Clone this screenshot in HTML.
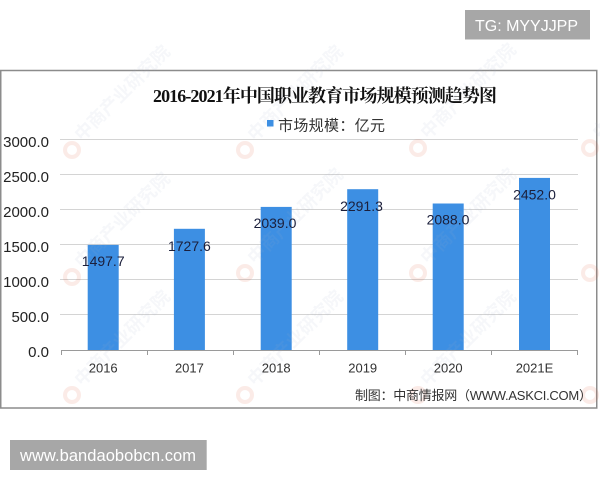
<!DOCTYPE html>
<html>
<head>
<meta charset="utf-8">
<style>
  html, body { margin:0; padding:0; background:#ffffff; }
  body { width:600px; height:480px; overflow:hidden; position:relative; }
  svg { position:absolute; left:0; top:0; }
</style>
</head>
<body>
<svg width="600" height="480" viewBox="0 0 600 480" xmlns="http://www.w3.org/2000/svg">
  <!-- TG box -->
  <rect x="465" y="10" width="125" height="29.5" fill="#a7a7a7"/>
  <text x="475" y="31" font-family="Liberation Sans, sans-serif" font-size="16" fill="#ffffff" textLength="103" lengthAdjust="spacing">TG: MYYJJPP</text>

  <!-- chart frame -->
  <rect x="0.75" y="70.5" width="596" height="337.5" fill="#ffffff" stroke="#8c8c8c" stroke-width="1.5"/>

  <!-- gridlines -->
  <g stroke="#d4d4d4" stroke-width="1">
    <line x1="60" y1="139.5" x2="578" y2="139.5"/>
    <line x1="60" y1="174.5" x2="578" y2="174.5"/>
    <line x1="60" y1="209.5" x2="578" y2="209.5"/>
    <line x1="60" y1="244.5" x2="578" y2="244.5"/>
    <line x1="60" y1="279.5" x2="578" y2="279.5"/>
    <line x1="60" y1="314.5" x2="578" y2="314.5"/>
  </g>

  <!-- bars -->
  <g fill="#3d8fe3">
    <rect x="87.7" y="244.9" width="31" height="105.1"/>
    <rect x="173.9" y="228.8" width="31" height="121.2"/>
    <rect x="260.7" y="206.9" width="31" height="143.1"/>
    <rect x="347.2" y="189.2" width="31" height="160.8"/>
    <rect x="432.7" y="203.5" width="31" height="146.5"/>
    <rect x="519" y="177.9" width="31" height="172.1"/>
  </g>

  <!-- x axis -->
  <g stroke="#9a9a9a" stroke-width="1">
    <line x1="61" y1="350.5" x2="578" y2="350.5"/>
    <line x1="61.5" y1="350" x2="61.5" y2="355"/>
    <line x1="147.5" y1="350" x2="147.5" y2="355"/>
    <line x1="233.5" y1="350" x2="233.5" y2="355"/>
    <line x1="319.5" y1="350" x2="319.5" y2="355"/>
    <line x1="405.5" y1="350" x2="405.5" y2="355"/>
    <line x1="491.5" y1="350" x2="491.5" y2="355"/>
    <line x1="577.5" y1="350" x2="577.5" y2="355"/>
  </g>

  <!-- watermarks -->
  <g opacity="0.1">
    <g font-family="Liberation Sans, 'Noto Sans CJK SC', sans-serif" font-size="18" font-weight="bold" fill="#9fb0c6">
      <text transform="translate(82,142) rotate(-45)">中商产业研究院</text>
      <text transform="translate(255,142) rotate(-45)">中商产业研究院</text>
      <text transform="translate(428,140) rotate(-45)">中商产业研究院</text>
      <text transform="translate(600,140) rotate(-45)">中商产业研究院</text>
      <text transform="translate(82,269) rotate(-45)">中商产业研究院</text>
      <text transform="translate(255,265) rotate(-45)">中商产业研究院</text>
      <text transform="translate(428,265) rotate(-45)">中商产业研究院</text>
      <text transform="translate(-91,269) rotate(-45)">中商产业研究院</text>
      <text transform="translate(82,387) rotate(-45)">中商产业研究院</text>
      <text transform="translate(255,387) rotate(-45)">中商产业研究院</text>
      <text transform="translate(428,387) rotate(-45)">中商产业研究院</text>
      <text transform="translate(-91,387) rotate(-45)">中商产业研究院</text>
    </g>
  </g>
  <g opacity="0.12" fill="none" stroke-width="4">
    <circle cx="72" cy="150" r="7" stroke="#e05a3a"/>
    <circle cx="245" cy="150" r="7" stroke="#e05a3a"/>
    <circle cx="418" cy="148" r="7" stroke="#e05a3a"/>
    <circle cx="590" cy="148" r="7" stroke="#e05a3a"/>
    <circle cx="72" cy="277" r="7" stroke="#e05a3a"/>
    <circle cx="245" cy="273" r="7" stroke="#e05a3a"/>
    <circle cx="418" cy="273" r="7" stroke="#e05a3a"/>
    <circle cx="590" cy="273" r="7" stroke="#e05a3a"/>
    <circle cx="72" cy="395" r="7" stroke="#e05a3a"/>
    <circle cx="245" cy="395" r="7" stroke="#e05a3a"/>
    <circle cx="418" cy="395" r="7" stroke="#e05a3a"/>
    <circle cx="590" cy="395" r="7" stroke="#e05a3a"/>
  </g>

  <!-- title -->
  <text x="153" y="102" font-family="'Liberation Serif', 'Noto Serif CJK SC', serif" font-size="18" font-weight="bold" fill="#111111" textLength="344" lengthAdjust="spacing">2016-2021年中国职业教育市场规模预测趋势图</text>

  <!-- legend -->
  <rect x="267" y="120" width="6.5" height="6.5" fill="#3d8fe3"/>
  <text x="278" y="130.5" font-family="'Liberation Sans', 'Noto Sans CJK SC', sans-serif" font-size="15" fill="#333333" textLength="107" lengthAdjust="spacing">市场规模：亿元</text>

  <!-- y labels -->
  <g font-family="'Liberation Sans', sans-serif" font-size="15" fill="#222222" text-anchor="end">
    <text x="49" y="147">3000.0</text>
    <text x="49" y="182">2500.0</text>
    <text x="49" y="217">2000.0</text>
    <text x="49" y="252">1500.0</text>
    <text x="49" y="287">1000.0</text>
    <text x="49" y="322">500.0</text>
    <text x="49" y="357">0.0</text>
  </g>

  <!-- data labels -->
  <g font-family="'Liberation Sans', sans-serif" font-size="14" fill="#1b1f3b" text-anchor="middle">
    <text x="103.2" y="266">1497.7</text>
    <text x="189.4" y="251">1727.6</text>
    <text x="275" y="228">2039.0</text>
    <text x="361.5" y="211">2291.3</text>
    <text x="448" y="224.5">2088.0</text>
    <text x="534.5" y="199.5">2452.0</text>
  </g>

  <!-- x labels -->
  <g font-family="'Liberation Sans', sans-serif" font-size="13" fill="#333333" text-anchor="middle">
    <text x="103.2" y="372.7">2016</text>
    <text x="189.4" y="372.7">2017</text>
    <text x="276.2" y="372.7">2018</text>
    <text x="362.7" y="372.7">2019</text>
    <text x="448.2" y="372.7">2020</text>
    <text x="534.5" y="372.7">2021E</text>
  </g>

  <!-- source -->
  <text x="355" y="400" font-family="'Liberation Sans', 'Noto Sans CJK SC', sans-serif" font-size="13" fill="#333333" textLength="237" lengthAdjust="spacing">制图：中商情报网（WWW.ASKCI.COM）</text>

  <!-- www box -->
  <rect x="10" y="440" width="196.7" height="30" fill="#a7a7a7"/>
  <text x="20" y="461" font-family="'Liberation Sans', sans-serif" font-size="16.5" fill="#ffffff" textLength="176" lengthAdjust="spacing">www.bandaobobcn.com</text>
</svg>
</body>
</html>
